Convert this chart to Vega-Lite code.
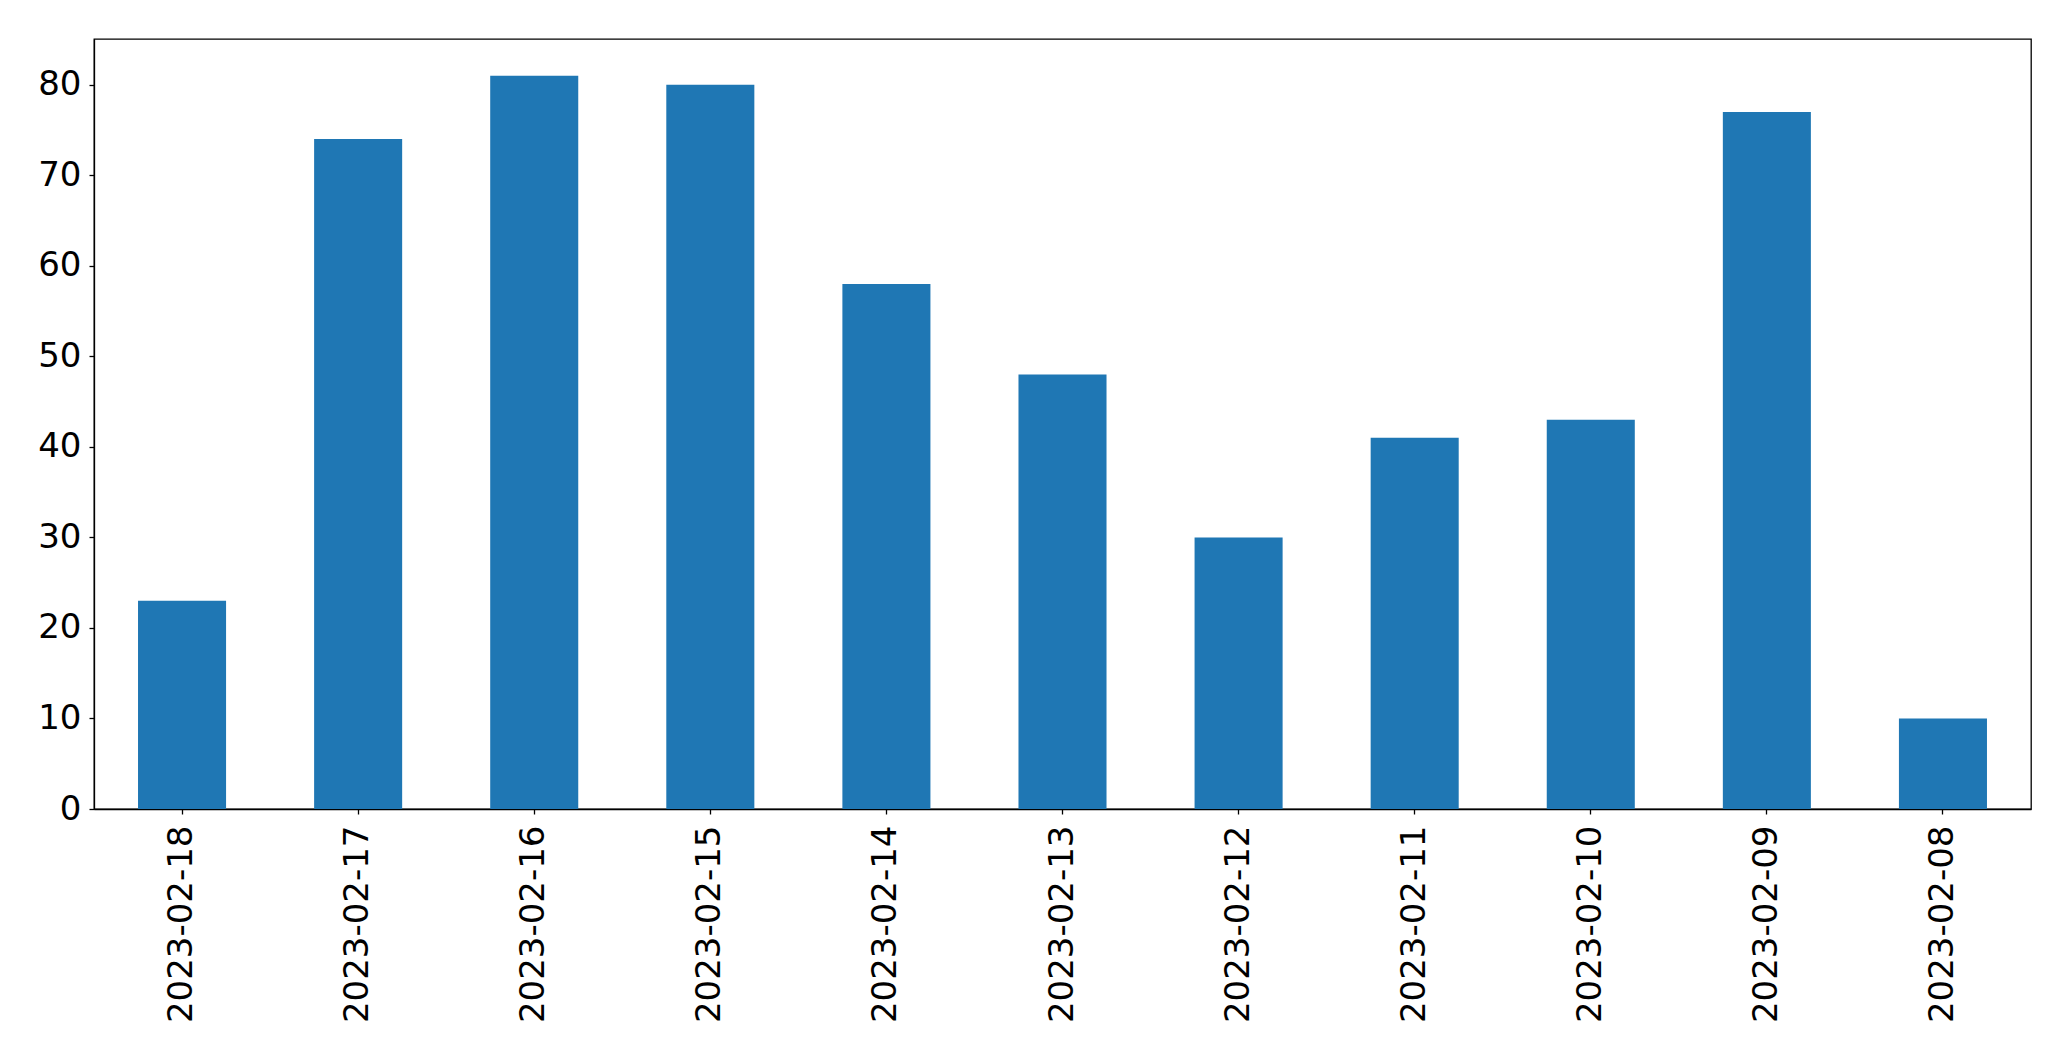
{
  "$schema": "https://vega.github.io/schema/vega-lite/v6.json",
  "autosize": "none",
  "width": 1937,
  "height": 770,
  "padding": {"left": 94, "top": 39, "right": 40, "bottom": 252},
  "background": "white",
  "config": {
    "view": {"stroke": "black", "strokeWidth": 1.3},
    "font": "DejaVu Sans",
    "axis": {
      "labelFont": "DejaVu Sans",
      "labelFontSize": 34,
      "labelColor": "black",
      "labelLimit": 0,
      "domainColor": "black",
      "domainWidth": 1.3,
      "tickColor": "black",
      "tickWidth": 1.3,
      "tickSize": 5,
      "grid": false,
      "title": null
    }
  },
  "data": {
    "values": [
      {"date": "2023-02-18", "value": 23},
      {"date": "2023-02-17", "value": 74},
      {"date": "2023-02-16", "value": 81},
      {"date": "2023-02-15", "value": 80},
      {"date": "2023-02-14", "value": 58},
      {"date": "2023-02-13", "value": 48},
      {"date": "2023-02-12", "value": 30},
      {"date": "2023-02-11", "value": 41},
      {"date": "2023-02-10", "value": 43},
      {"date": "2023-02-09", "value": 77},
      {"date": "2023-02-08", "value": 10}
    ]
  },
  "mark": {"type": "bar", "color": "#1f77b4"},
  "encoding": {
    "x": {
      "field": "date",
      "type": "nominal",
      "sort": null,
      "scale": {"paddingInner": 0.5, "paddingOuter": 0.25},
      "axis": {"labelAngle": -90, "labelPadding": 11, "labelLimit": 0, "title": null}
    },
    "y": {
      "field": "value",
      "type": "quantitative",
      "scale": {"domain": [0, 85.05], "nice": false, "zero": true},
      "axis": {"values": [0, 10, 20, 30, 40, 50, 60, 70, 80], "labelPadding": 8, "title": null}
    }
  }
}
